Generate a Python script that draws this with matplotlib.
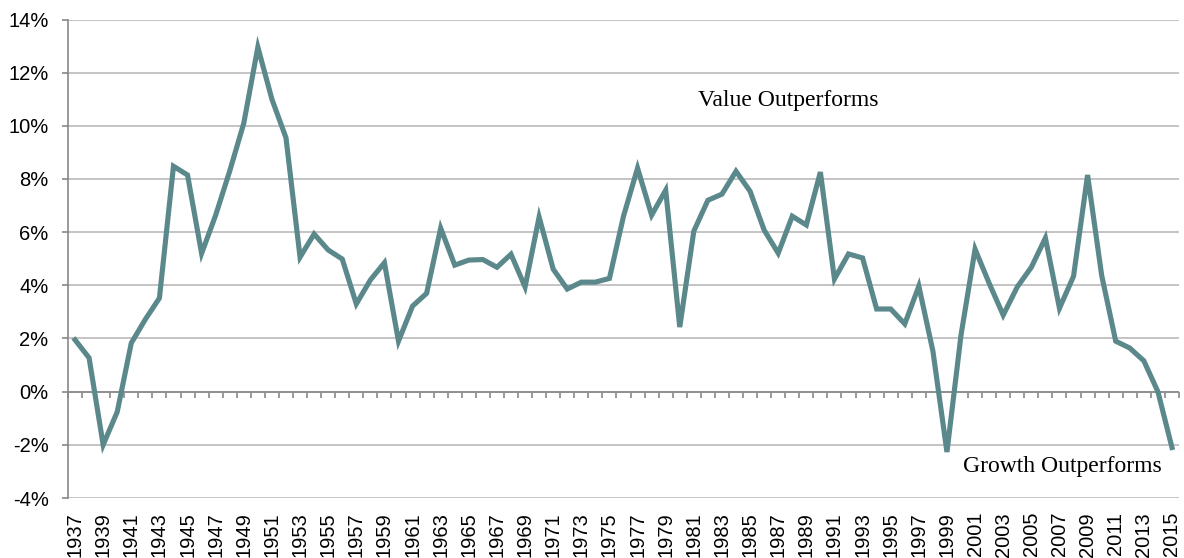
import matplotlib
matplotlib.use('Agg')
from matplotlib import pyplot as plt
import numpy as np

years = np.arange(1937, 2016)
spread = [1.95, 1.27, -2.0, -0.76, 1.83, 2.72, 3.52, 8.48, 8.15, 5.2,
          6.64, 8.3, 10.1, 12.96, 11.0, 9.55, 5.06, 5.93, 5.33, 4.99,
          3.3, 4.2, 4.85, 1.9, 3.22, 3.7, 6.15, 4.76, 4.95, 4.97,
          4.68, 5.17, 3.94, 6.57, 4.61, 3.86, 4.12, 4.12, 4.26, 6.6,
          8.41, 6.64, 7.58, 2.43, 6.04, 7.2, 7.43, 8.29, 7.54, 6.08,
          5.21, 6.6, 6.27, 8.26, 4.24, 5.18, 5.03, 3.11, 3.11, 2.55,
          3.97, 1.53, -2.27, 2.13, 5.36, 4.08, 2.88, 3.94, 4.68, 5.78,
          3.14, 4.34, 8.15, 4.38, 1.9, 1.64, 1.16, 0.0, -2.1]
yticks = [-4, -2, 0, 2, 4, 6, 8, 10, 12, 14]
ytick_labels = ['%d%%' % v for v in yticks]
xtick_years = years[::2]

line_color = '#5b888b'
grid_color = '#bfbfbf'
axis_color = '#878787'

fig = plt.figure(figsize=(11.84, 5.58), dpi=100)
ax = fig.add_axes([68/1184, 1 - 498/558, (1179 - 68)/1184, (498 - 19.5)/558])

ax.plot(years, spread, color=line_color, lw=3.7, solid_joinstyle='miter', zorder=3)

ax.set_xlim(1936.5, 2015.5)
ax.set_ylim(-4, 14)
ax.set_yticks(yticks)
ax.set_yticklabels(ytick_labels, family='Liberation Sans', fontsize=14.5)
ax.yaxis.grid(True, color=grid_color, lw=1.3)
ax.set_axisbelow(True)

ax.set_xticks(xtick_years)
ax.set_xticklabels([str(y) for y in xtick_years], rotation=90,
                   family='Liberation Sans', fontsize=14.5)
ax.tick_params(axis='x', length=0, pad=10)
ax.tick_params(axis='y', length=4, width=1.2, color=axis_color, pad=10)

for s in ['top', 'right', 'bottom']:
    ax.spines[s].set_visible(False)
ax.spines['left'].set_color(axis_color)
ax.spines['left'].set_linewidth(1.2)

# zero line with category-boundary ticks
ax.axhline(0, color=axis_color, lw=1.2, zorder=2)
zero = ax.secondary_xaxis(4 / 18)
zero.set_xticks(np.arange(1936.5, 2016, 1))
zero.set_xticklabels([])
zero.tick_params(length=4, width=1.2, color=axis_color, direction='out')
zero.spines['bottom'].set_visible(False)

ax.text(1987.7, 10.97, 'Value Outperforms', family='Liberation Serif',
        fontsize=17, ha='center', va='center')
ax.text(2007.2, -2.83, 'Growth Outperforms', family='Liberation Serif',
        fontsize=17, ha='center', va='center')

fig.savefig('out.png', dpi=100)
